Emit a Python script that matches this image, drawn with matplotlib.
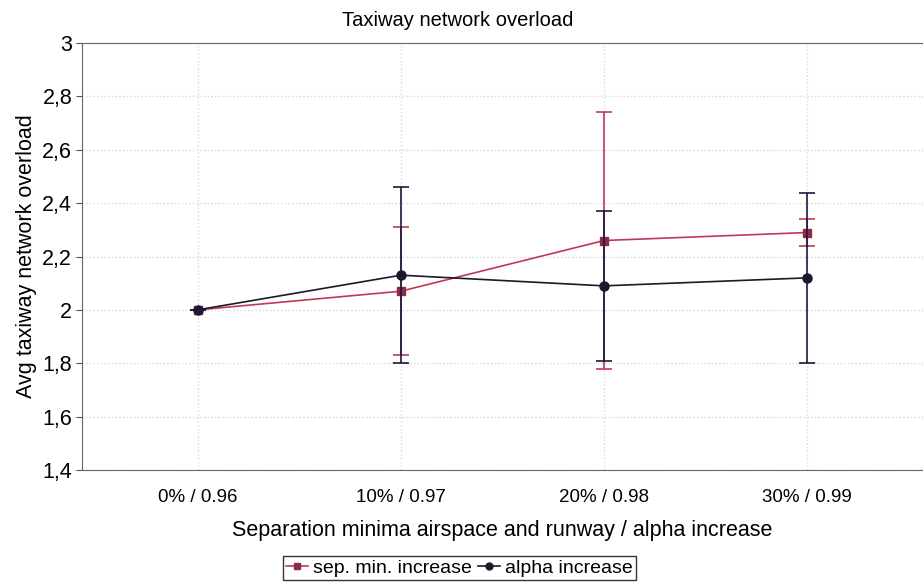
import matplotlib.pyplot as plt
from matplotlib.lines import Line2D
from matplotlib.ticker import FuncFormatter

categories = ['0% / 0.96', '10% / 0.97', '20% / 0.98', '30% / 0.99']
sep_min = [2.0, 2.07, 2.26, 2.29]
sep_min_err = [0.0, 0.24, 0.48, 0.05]
alpha = [2.0, 2.13, 2.09, 2.12]
alpha_err = [0.0, 0.33, 0.28, 0.32]

plt.rcParams['font.family'] = ['Liberation Sans', 'DejaVu Sans']

red = '#c03858'
dark = '#1a1a28'

fig = plt.figure(figsize=(9.23, 5.83), dpi=100)
ax = fig.add_axes([0.0888, 0.194, 0.9112, 0.732])

x = range(len(categories))
ax.errorbar(x, sep_min, yerr=sep_min_err, color=red, ecolor=red,
            marker='s', markersize=6, markerfacecolor='#8c2a48', markeredgecolor='#8c2a48',
            linewidth=1.2, elinewidth=1.2, capsize=5.5, capthick=1.2, zorder=3)
ax.errorbar(x, alpha, yerr=alpha_err, color=dark, ecolor='#1a1a3a',
            marker='o', markersize=6.5, markerfacecolor='#1a1a2e', markeredgecolor='#1a1a2e',
            linewidth=1.2, elinewidth=1.2, capsize=5.5, capthick=1.2, zorder=4)

ax.set_xlim(-0.57, 3.57)
ax.set_ylim(1.4, 3.0)
ax.set_yticks([1.4, 1.6, 1.8, 2.0, 2.2, 2.4, 2.6, 2.8, 3.0])
ax.yaxis.set_major_formatter(FuncFormatter(lambda v, p: ('%g' % round(v, 1)).replace('.', ',')))
ax.set_xticks(list(x))
ax.set_xticklabels(categories)
ax.tick_params(axis='y', labelsize=15.5, length=4, color='#555555', pad=3)
ax.tick_params(axis='x', labelsize=13.5, length=0, pad=14)

ax.grid(True, color='#d8d8d8', linestyle=':', linewidth=1)
ax.spines['right'].set_visible(False)
for s in ['top', 'left', 'bottom']:
    ax.spines[s].set_color('#666666')

fig.text(0.496, 0.964, 'Taxiway network overload', fontsize=14.5, ha='center', va='center')
ax.set_xlabel('Separation minima airspace and runway / alpha increase', fontsize=15.5, labelpad=10)
ax.set_ylabel('Avg taxiway network overload', fontsize=15.5, labelpad=4)

handles = [
    Line2D([0], [0], color=red, marker='s', markersize=5, markerfacecolor='#8c2a48',
           markeredgecolor='#8c2a48', linewidth=1.2),
    Line2D([0], [0], color=dark, marker='o', markersize=5, markerfacecolor=dark,
           markeredgecolor=dark, linewidth=1.2),
]
leg = fig.legend(handles, ['sep. min. increase', 'alpha increase'], loc='center',
                 bbox_to_anchor=(0.498, 0.026), ncol=2, fontsize=14,
                 frameon=True, fancybox=False, edgecolor='black', handlelength=1.1,
                 handletextpad=0.3, columnspacing=0.3, borderpad=0.15, borderaxespad=0)
leg.get_frame().set_linewidth(1)

fig.savefig('out.png', dpi=100)
